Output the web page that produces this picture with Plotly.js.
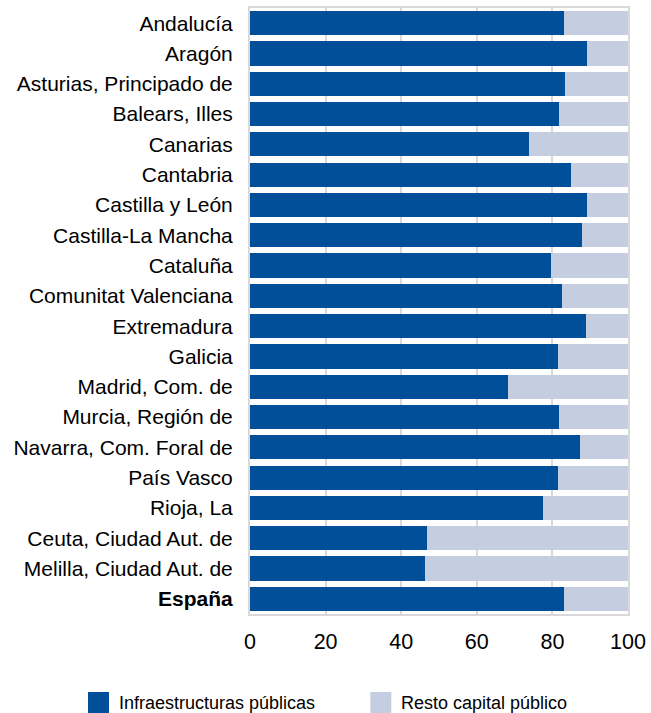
<!DOCTYPE html>
<html>
<head>
<meta charset="utf-8">
<script src="https://cdn.plot.ly/plotly-3.0.1.min.js"></script>
<style>html,body{margin:0;padding:0;background:#fff;}#chart{width:651px;height:713px;}</style>
</head>
<body>
<div id="chart"></div>
<script>
const categories = ["Andalucía","Aragón","Asturias, Principado de","Balears, Illes","Canarias","Cantabria","Castilla y León","Castilla-La Mancha","Cataluña","Comunitat Valenciana","Extremadura","Galicia","Madrid, Com. de","Murcia, Región de","Navarra, Com. Foral de","País Vasco","Rioja, La","Ceuta, Ciudad Aut. de","Melilla, Ciudad Aut. de","España"];
const infraestructuras = [83.0,89.2,83.4,81.7,73.8,85.0,89.1,87.9,79.7,82.6,88.9,81.4,68.2,81.8,87.2,81.5,77.5,46.7,46.4,83.1];
const resto = infraestructuras.map(v => +(100 - v).toFixed(1));
const seriesNames = ["Infraestructuras públicas","Resto capital público"];
const xTicks = [0,20,40,60,80,100];

const tickText = categories.map(c => c === "España" ? "<b>España</b>" : c);
const colors = ["#004f98","#c5cde0"];

const traces = [
  {type:"bar", orientation:"h", y:categories, x:infraestructuras, name:seriesNames[0], marker:{color:colors[0]}, showlegend:false, hoverinfo:"x+y"},
  {type:"bar", orientation:"h", y:categories, x:resto, name:seriesNames[1], marker:{color:colors[1]}, showlegend:false, hoverinfo:"x+y"}
];

const W = 378.5, H = 606, L = 249.5, T = 8;
const px = x => (x - L) / W;
const py = y => (T + H - y) / H;

const layout = {
  width:651, height:713,
  margin:{l:249.5, r:23, t:8, b:99},
  barmode:"stack", bargap:0.2,
  paper_bgcolor:"#fff", plot_bgcolor:"#fff",
  font:{family:"Liberation Sans, Arial, sans-serif", color:"#000"},
  xaxis:{range:[0,100], tickvals:xTicks, ticktext:xTicks.map(String), showgrid:true, gridcolor:"#d9d9d9", gridwidth:2,
         zeroline:false, showline:true, mirror:true, linecolor:"#d9d9d9", linewidth:2, ticks:"", tickfont:{size:21.5}, ticklabelstandoff:7, fixedrange:true},
  yaxis:{type:"category", autorange:"reversed", tickvals:categories, ticktext:tickText, showgrid:false, zeroline:false,
         showline:true, mirror:true, linecolor:"#d9d9d9", linewidth:2, ticks:"", tickfont:{size:21}, ticklabelstandoff:11, fixedrange:true},
  shapes:[
    {type:"rect", xref:"paper", yref:"paper", x0:px(87.3), x1:px(108.3), y0:py(713), y1:py(692), fillcolor:colors[0], line:{width:0}},
    {type:"rect", xref:"paper", yref:"paper", x0:px(370), x1:px(391), y0:py(713), y1:py(692), fillcolor:colors[1], line:{width:0}}
  ],
  annotations:[
    {xref:"paper", yref:"paper", x:px(116), y:py(703), xanchor:"left", yanchor:"middle", text:seriesNames[0], showarrow:false, font:{size:18}},
    {xref:"paper", yref:"paper", x:px(399), y:py(703), xanchor:"left", yanchor:"middle", text:seriesNames[1], showarrow:false, font:{size:18}}
  ]
};

Plotly.newPlot("chart", traces, layout, {displayModeBar:false, staticPlot:true});
</script>
</body>
</html>
